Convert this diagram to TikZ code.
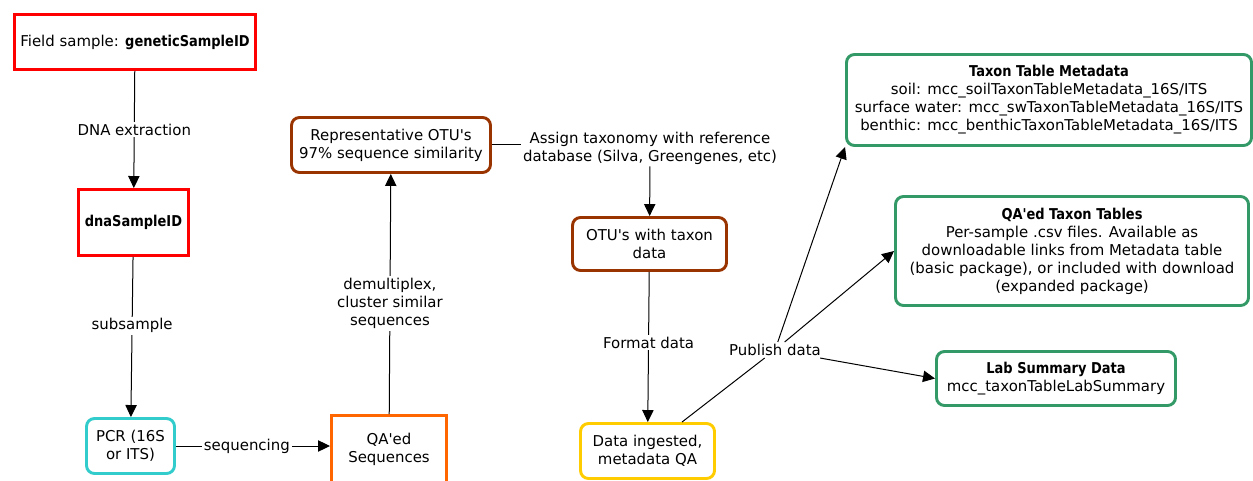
\documentclass[tikz,border=0pt]{standalone}
\usepackage{fontspec}
\setmainfont{DejaVu Sans}[Ligatures=TeXOff, BoldFeatures={FakeStretch=0.87}]
\usetikzlibrary{arrows.meta}
\definecolor{cred}{HTML}{FF0000}
\definecolor{ccyan}{HTML}{33CCCC}
\definecolor{corange}{HTML}{FF6600}
\definecolor{cbrown}{HTML}{993300}
\definecolor{cgold}{HTML}{FFCC00}
\definecolor{cgreen}{HTML}{339966}
\newcommand{\bt}[1]{\textbf{#1}}
\begin{document}
\begin{tikzpicture}[x=0.75pt,y=-0.75pt,
  font=\fontsize{11.2}{13.5}\selectfont,
  boxbase/.style={line width=2.2pt, align=center, inner sep=0pt, fill=white},
  sharpbox/.style={boxbase, draw=#1},
  roundbox/.style={boxbase, draw=#1, rounded corners=6pt},
  lbl/.style={fill=white, inner sep=1.5pt, align=center},
  arr/.style={-{Triangle[length=9pt,width=8.5pt]}, line width=0.75pt},
  conn/.style={line width=0.75pt}
]
\useasboundingbox (0,0) rectangle (1253,481);
\begin{scope}
\clip (0,0) rectangle (1253,481);
\node[sharpbox=cred, minimum width=241*0.75pt, minimum height=55*0.75pt] (field) at (135,42) {Field sample: \bt{geneticSampleID}};
\node[sharpbox=cred, minimum width=110*0.75pt, minimum height=66*0.75pt] (dna) at (133.5,222.5) {\bt{dnaSampleID}};
\node[roundbox=ccyan, minimum width=88*0.75pt, minimum height=55*0.75pt] (pcr) at (130.5,446) {PCR (16S\\or ITS)};
\node[sharpbox=corange, minimum width=115*0.75pt, minimum height=67*0.75pt] (qa) at (389,449) {QA'ed\\Sequences};
\node[roundbox=cbrown, minimum width=199*0.75pt, minimum height=55*0.75pt] (rep) at (391,145) {Representative OTU's\\97\% sequence similarity};
\node[roundbox=cbrown, minimum width=154*0.75pt, minimum height=53*0.75pt] (otu) at (649.5,244) {OTU's with taxon\\data};
\node[roundbox=cgold, minimum width=134*0.75pt, minimum height=55*0.75pt] (data) at (647.5,451) {Data ingested,\\metadata QA};
\node[roundbox=cgreen, minimum width=405*0.75pt, minimum height=91*0.75pt] (meta) at (1049,100) {\bt{Taxon Table Metadata}\\soil: mcc\_soilTaxonTableMetadata\_16S/ITS\\surface water: mcc\_swTaxonTableMetadata\_16S/ITS\\benthic: mcc\_benthicTaxonTableMetadata\_16S/ITS};
\node[roundbox=cgreen, minimum width=353*0.75pt, minimum height=109*0.75pt] (qat) at (1072,251) {\bt{QA'ed Taxon Tables}\\Per-sample .csv files. Available as\\downloadable links from Metadata table\\(basic package), or included with download\\(expanded package)};
\node[roundbox=cgreen, minimum width=239*0.75pt, minimum height=54*0.75pt] (lab) at (1056,378.5) {\bt{Lab Summary Data}\\mcc\_taxonTableLabSummary};
\node[lbl] (assign) at (650,148) {Assign taxonomy with reference\\database (Silva, Greengenes, etc)};
\node[lbl] (pub) at (775,350) {Publish data};

\draw[arr] (field) -- node[lbl]{DNA extraction} (dna);
\draw[arr] (dna) -- node[lbl,pos=0.43]{subsample} (pcr);
\draw[arr] (pcr.east) -- node[lbl,pos=0.46]{sequencing} (pcr.east -| qa.west);
\draw[arr] (qa) -- node[lbl,pos=0.46]{demultiplex,\\cluster similar\\sequences} (rep);
\draw[conn] (rep.east) -- (rep.east -| assign.west);
\draw[arr] (assign) -- (otu);
\draw[arr] (otu) -- node[lbl,pos=0.47]{Format data} (data);
\draw[conn] (data.40) -- (pub);
\draw[arr] (pub) -- (meta.south west);
\draw[arr] (pub) -- (qat.west);
\draw[arr] (pub) -- (lab.west);
\end{scope}
\end{tikzpicture}
\end{document}
